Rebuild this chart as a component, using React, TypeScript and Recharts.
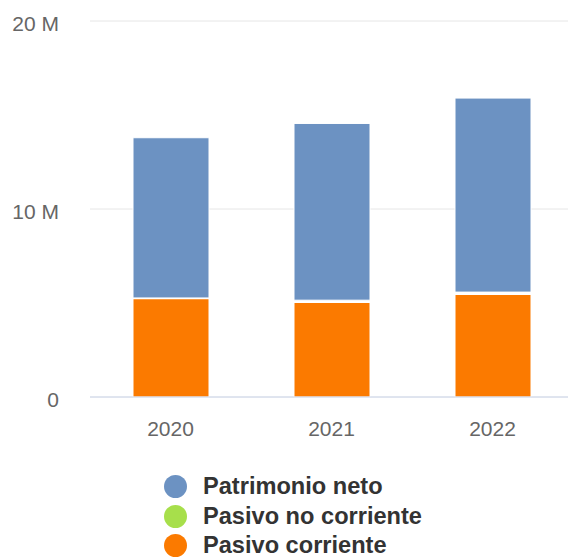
import * as React from "react"
import { Bar, BarChart, CartesianGrid, XAxis, YAxis } from "recharts"

const years = ["2020", "2021", "2022"]
const patrimonioNeto = [8520000, 9400000, 10320000]
const pasivoNoCorriente = [20000, 100000, 100000]
const pasivoCorriente = [5250000, 5050000, 5480000]
const yTicks = [0, 10000000, 20000000]

const series = [
    { key: "patrimonio", name: "Patrimonio neto", color: "#6c92c2", values: patrimonioNeto, border: 1 },
    { key: "noCorriente", name: "Pasivo no corriente", color: "#a7df4b", values: pasivoNoCorriente, border: 2 },
    { key: "corriente", name: "Pasivo corriente", color: "#fb7a00", values: pasivoCorriente, border: 1 },
]

const chartData = years.map((year, i) => ({
    year,
    patrimonio: patrimonioNeto[i],
    noCorriente: pasivoNoCorriente[i],
    corriente: pasivoCorriente[i],
}))

const font = "'Liberation Sans', Arial, sans-serif"

const formatMillions = (value: number) => (value === 0 ? "0" : `${value / 1000000} M`)

const YTick = (props: any) => {
    const { x, y, payload } = props
    return (
        <text x={x - 23} y={y} dy={10} textAnchor="end" fill="#666666" fontSize={21} fontFamily={font}>
            {formatMillions(payload.value)}
        </text>
    )
}

const XTick = (props: any) => {
    const { x, y, payload } = props
    return (
        <text x={x} y={y} dy={31} textAnchor="middle" fill="#666666" fontSize={21} fontFamily={font}>
            {payload.value}
        </text>
    )
}

export default function App() {
    return (
        <div style={{ position: "absolute", left: 0, top: 0, width: 568, height: 558, overflow: "hidden", background: "#fff" }}>
            <BarChart
                width={580}
                height={558}
                data={chartData}
                margin={{ top: 21, right: 7, left: 0, bottom: 121 }}
            >
                <CartesianGrid vertical={false} stroke="#e6e6e6" />
                <XAxis
                    dataKey="year"
                    tickLine={false}
                    axisLine={{ stroke: "#ccd6eb" }}
                    height={40}
                    tick={<XTick />}
                />
                <YAxis
                    width={90}
                    domain={[0, 20000000]}
                    ticks={yTicks}
                    tickLine={false}
                    axisLine={false}
                    tick={<YTick />}
                />
                {[...series].reverse().map((s) => (
                    <Bar
                        key={s.key}
                        dataKey={s.key}
                        name={s.name}
                        stackId="a"
                        fill={s.color}
                        stroke="#ffffff"
                        strokeWidth={s.border}
                        barSize={76}
                        isAnimationActive={false}
                    />
                ))}
            </BarChart>
            <div style={{ position: "absolute", left: 164, top: 472, fontFamily: font }}>
                {series.map((s) => (
                    <div key={s.key} style={{ display: "flex", alignItems: "center", height: 29.5 }}>
                        <span
                            style={{
                                width: 23,
                                height: 23,
                                borderRadius: "50%",
                                background: s.color,
                                display: "inline-block",
                                marginRight: 16,
                            }}
                        />
                        <span style={{ fontSize: 23.6, fontWeight: "bold", color: "#333333" }}>{s.name}</span>
                    </div>
                ))}
            </div>
        </div>
    )
}
